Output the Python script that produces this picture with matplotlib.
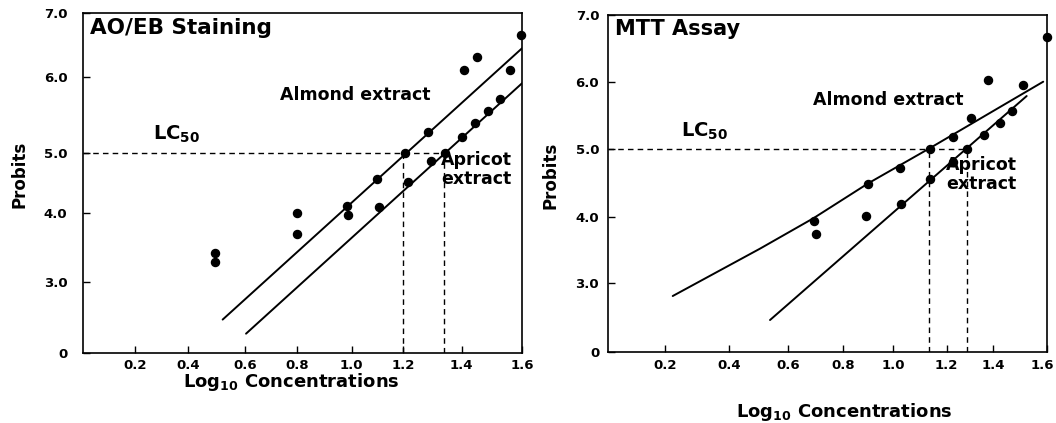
import numpy as np
import matplotlib
matplotlib.use("Agg")
import matplotlib.pyplot as plt
import matplotlib.transforms as mtransforms

plt.rcParams['font.family'] = ['DejaVu Sans']
plt.rcParams['font.weight'] = 'bold'
plt.rcParams['mathtext.fontset'] = 'dejavusans'
plt.rcParams['mathtext.default'] = 'bf'

# ---------------- data ----------------
# AO/EB staining
aoeb_almond_x = [0.495, 0.80, 0.982, 1.099, 1.206, 1.286, 1.408, 1.450, 1.596]
aoeb_almond_y = [3.415, 4.00, 4.122, 4.572, 5.00, 5.282, 6.106, 6.306, 6.658]
aoeb_apricot_x = [0.495, 0.80, 0.987, 1.106, 1.215, 1.294, 1.343, 1.400, 1.444, 1.486, 1.528, 1.561]
aoeb_apricot_y = [3.284, 3.693, 3.98, 4.11, 4.517, 4.877, 5.00, 5.217, 5.392, 5.552, 5.705, 6.106]
aoeb_almond_fit_x = [0.522, 1.60]
aoeb_almond_fit_y = [2.465, 6.448]
aoeb_apricot_fit_x = [0.604, 1.60]
aoeb_apricot_fit_y = [2.266, 5.914]
aoeb_lc50 = [1.20, 1.34]

# MTT assay
mtt_almond_x = [0.695, 0.90, 1.025, 1.136, 1.225, 1.303, 1.379, 1.512, 1.60]
mtt_almond_y = [3.928, 4.488, 4.718, 5.00, 5.186, 5.467, 6.03, 5.95, 6.67]
mtt_apricot_x = [0.699, 0.89, 1.028, 1.136, 1.225, 1.287, 1.362, 1.426, 1.469]
mtt_apricot_y = [3.737, 4.006, 4.184, 4.562, 4.816, 5.00, 5.207, 5.393, 5.566]
mtt_almond_fit_x = [0.224, 0.504, 0.691, 0.90, 1.136, 1.587]
mtt_almond_fit_y = [2.814, 3.52, 3.976, 4.496, 5.015, 6.00]
mtt_apricot_fit_x = [0.538, 1.525]
mtt_apricot_fit_y = [2.463, 5.788]
mtt_lc50 = [1.135, 1.287]

x_ticks = [0.2, 0.4, 0.6, 0.8, 1.0, 1.2, 1.4, 1.6]
x_ticklabels = ['0.2', '0.4', '0.6', '0.8', '1.0', '1.2', '1.4', '1.6']
y_ticks = [2, 3, 4, 5, 6, 7]
y_ticklabels = ['0', '3.0', '4.0', '5.0', '6.0', '7.0']
probit_50 = 5.0

# ---------------- axis calibration (hand-drawn, uneven axes) ----------------
calib_x_vals = [0.0, 0.2, 0.4, 0.6, 0.8, 1.0, 1.2, 1.4, 1.6]
calib_y_vals = [2, 3, 4, 5, 6, 7]
left_x_pix = [82.7, 135, 187.7, 245, 296.7, 351.7, 403.3, 461.7, 522]
left_y_pix = [352.5, 281.7, 213.3, 153.3, 76.7, 13.3]
right_x_pix = [607.5, 665, 729.3, 788.3, 843.3, 893.3, 946.7, 993.3, 1046.7]
right_y_pix = [351.7, 283.3, 216.7, 149.3, 81.7, 15]

W, H = 1056, 423


def piecewise(vals, pos):
    vals = np.asarray(vals, float)
    pos = np.asarray(pos, float)

    def make(a, b):
        s0 = (b[1] - b[0]) / (a[1] - a[0])
        s1 = (b[-1] - b[-2]) / (a[-1] - a[-2])

        def f(x):
            x = np.asarray(x, float)
            y = np.interp(x, a, b)
            y = np.where(x < a[0], b[0] + (x - a[0]) * s0, y)
            y = np.where(x > a[-1], b[-1] + (x - a[-1]) * s1, y)
            return y
        return f
    return make(vals, pos), make(pos, vals)


fig = plt.figure(figsize=(W / 100, H / 100), dpi=100)


def make_axes(xpix, ypix, ylab_pad):
    l, r = xpix[0], xpix[-1]
    b, t = ypix[0], ypix[-1]
    ax = fig.add_axes([l / W, 1 - b / H, (r - l) / W, (b - t) / H])
    ax.set_xscale('function', functions=piecewise(calib_x_vals, xpix))
    ax.set_yscale('function', functions=piecewise(calib_y_vals, [-p for p in ypix]))
    ax.set_xlim(0, 1.6)
    ax.set_ylim(2, 7)
    ax.set_xticks(x_ticks)
    ax.set_xticklabels(x_ticklabels)
    ax.set_yticks(y_ticks)
    ax.set_yticklabels(y_ticklabels)
    ax.xaxis.set_minor_locator(matplotlib.ticker.NullLocator())
    ax.yaxis.set_minor_locator(matplotlib.ticker.NullLocator())
    ax.tick_params(axis='both', direction='in', length=5, width=1.0, labelsize=9.5)
    ax.tick_params(axis='x', pad=5)
    ax.tick_params(axis='y', pad=ylab_pad)
    for lab in ax.get_xticklabels() + ax.get_yticklabels():
        lab.set_fontweight('bold')
    for sp in ax.spines.values():
        sp.set_linewidth(1.2)
        sp.set_color('black')
    return ax


def draw_panel(ax, ax_x, ay_x, ax_p, ay_p, fa_x, fa_y, fp_x, fp_y, lc50):
    ax.plot(fa_x, fa_y, color='black', lw=1.4, solid_capstyle='round', solid_joinstyle='round')
    ax.plot(fp_x, fp_y, color='black', lw=1.4, solid_capstyle='round')
    ax.plot(ax_x, ay_x, 'o', color='black', ms=5.8, clip_on=False)
    ax.plot(ax_p, ay_p, 'o', color='black', ms=5.8, clip_on=False)
    dash = (0, (4, 3))
    ax.plot([0, max(lc50)], [probit_50, probit_50], color='black', lw=1.0, linestyle=dash)
    for v in lc50:
        ax.plot([v, v], [2, probit_50], color='black', lw=1.0, linestyle=dash)


# ---------- left panel ----------
axL = make_axes(left_x_pix, left_y_pix, 11)
draw_panel(axL, aoeb_almond_x, aoeb_almond_y, aoeb_apricot_x, aoeb_apricot_y,
           aoeb_almond_fit_x, aoeb_almond_fit_y, aoeb_apricot_fit_x, aoeb_apricot_fit_y, aoeb_lc50)

# ---------- right panel ----------
axR = make_axes(right_x_pix, right_y_pix, 6)
draw_panel(axR, mtt_almond_x, mtt_almond_y, mtt_apricot_x, mtt_apricot_y,
           mtt_almond_fit_x, mtt_almond_fit_y, mtt_apricot_fit_x, mtt_apricot_fit_y, mtt_lc50)

# keep the last tick label of the right panel inside the figure
last = axR.get_xticklabels()[-1]
last.set_transform(last.get_transform() +
                   mtransforms.ScaledTranslation(-4 / 100, 0, fig.dpi_scale_trans))


def ftext(x, y, s, **kw):
    kw.setdefault('fontweight', 'bold')
    return fig.text(x / W, 1 - y / H, s, **kw)


# titles
ftext(90, 33.5, 'AO/EB Staining', fontsize=15.5, ha='left', va='baseline')
ftext(615, 35, 'MTT Assay', fontsize=15, ha='left', va='baseline')

# curve labels
ftext(280, 100, 'Almond extract', fontsize=12.5, ha='left', va='baseline')
ftext(813, 105, 'Almond extract', fontsize=12.5, ha='left', va='baseline')
ftext(476, 183.5, 'Apricot\nextract', fontsize=12.5, ha='center', va='baseline',
      multialignment='center', linespacing=1.05)
ftext(981, 188.5, 'Apricot\nextract', fontsize=12.5, ha='center', va='baseline',
      multialignment='center', linespacing=1.05)

# LC50
ftext(153, 140, r'LC$_{50}$', fontsize=14, ha='left', va='baseline')
ftext(681, 137, r'LC$_{50}$', fontsize=14, ha='left', va='baseline')

# axis labels
ftext(20, 174, 'Probits', fontsize=12, rotation=90, ha='center', va='center')
ftext(550.5, 175, 'Probits', fontsize=12, rotation=90, ha='center', va='center')
ftext(291.5, 386.7, r'Log$_{10}$ Concentrations', fontsize=13, ha='center', va='baseline')
ftext(844, 417, r'Log$_{10}$ Concentrations', fontsize=13, ha='center', va='baseline')

fig.savefig('out.png', dpi=100)
